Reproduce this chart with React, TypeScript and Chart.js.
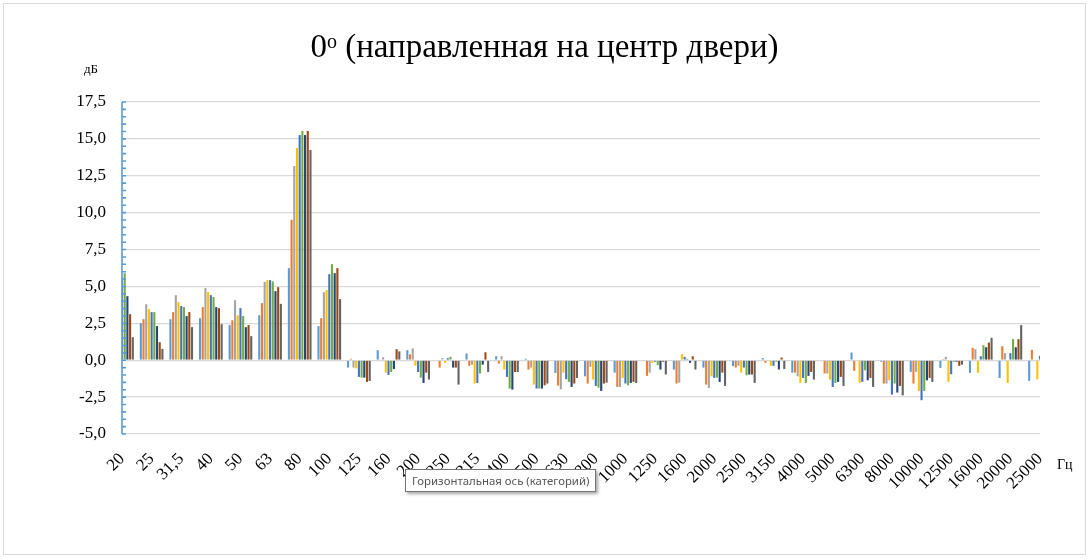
import React, { useEffect, useRef } from 'react';
import { Chart, registerables, ChartConfiguration, Plugin } from 'chart.js';

Chart.register(...registerables);

const categories = [
  '20', '25', '31,5', '40', '50', '63', '80', '100', '125', '160', '200',
  '250', '315', '400', '500', '630', '800', '1000', '1250', '1600', '2000',
  '2500', '3150', '4000', '5000', '6300', '8000', '10000', '12500', '16000',
  '20000', '25000',
];

const series1 = [4.2, 2.51, 2.78, 2.85, 2.38, 3.05, 6.24, 2.31, -0.5, 0.68, 0.68, 0.05, 0.45, 0.27, 0.1, -0.86, -1.09, -0.84, -0.05, -0.63, -0.5, -0.4, 0.14, -0.84, 0.05, 0.52, -0.1, -0.79, -0.52, -0.86, -1.2, -1.4];
const series2 = [4.6, 2.78, 3.26, 3.6, 2.71, 3.87, 9.52, 2.85, 0.1, 0.05, 0.4, -0.5, -0.38, -0.23, -0.63, -1.72, -1.58, -1.81, -1.06, -1.58, -1.65, -0.5, -0.18, -0.84, -0.9, -0.72, -1.58, -1.58, 0.07, 0.84, 0.95, 0.7];
const series3 = [5.2, 3.8, 4.41, 4.89, 4.07, 5.31, 13.16, 4.61, -0.5, 0.2, 0.8, 0.14, -0.3, 0.27, -0.5, -1.97, -0.45, -1.81, -0.84, -1.52, -1.88, -0.38, 0.05, -1.09, -0.9, 0.05, -1.58, -0.79, 0.23, 0.75, 0.48, 0.05];
const series4 = [5.0, 3.46, 3.94, 4.62, 3.05, 5.43, 14.38, 4.75, -0.55, -0.84, -0.38, -0.18, -1.58, -0.63, -1.65, -0.84, -1.31, -1.2, -0.18, 0.41, -1.09, -0.84, -0.38, -1.54, -1.31, -1.54, -1.36, -2.08, -1.47, -0.86, -1.54, -1.29];
const series5 = [5.6, 3.26, 3.67, 4.41, 3.53, 5.43, 15.26, 5.83, -1.13, -1.0, -0.8, 0.14, -1.54, -1.13, -1.92, -1.29, -1.74, -1.58, -0.1, 0.23, -1.2, -0.5, -0.38, -1.2, -1.81, -1.47, -2.33, -2.71, -0.95, 0.27, 0.48, 0.3];
const series6 = [5.9, 3.26, 3.6, 4.28, 2.99, 5.34, 15.54, 6.51, -1.18, -0.8, -1.18, 0.23, -0.9, -1.92, -1.92, -1.47, -1.86, -1.7, -0.34, 0.1, -1.18, -1.02, -0.1, -1.54, -1.54, -0.68, -1.58, -2.08, -0.1, 1.02, 1.43, 0.9];
const series7 = [4.34, 2.31, 2.99, 3.6, 2.24, 4.68, 15.26, 5.9, -1.18, -0.6, -1.54, -0.5, -0.3, -1.99, -1.92, -1.81, -2.08, -1.54, -0.63, -0.18, -1.47, -0.97, -0.63, -1.06, -1.47, -1.36, -2.19, -1.36, -0.1, 0.88, 0.88, 0.6];
const series8 = [3.12, 1.22, 3.26, 3.53, 2.38, 4.95, 15.54, 6.24, -1.47, 0.75, -0.84, -0.5, 0.54, -0.8, -1.7, -1.58, -1.58, -1.47, -0.1, 0.27, -0.84, -0.97, 0.18, -0.8, -1.13, -1.2, -1.74, -1.2, -0.38, 1.2, 1.43, 1.0];
const series9 = [1.56, 0.77, 2.24, 2.44, 1.63, 3.82, 14.25, 4.14, -1.4, 0.6, -1.31, -1.65, -0.8, -0.8, -1.58, -1.2, -1.52, -1.54, -0.97, -0.63, -1.74, -1.54, -0.6, -1.31, -1.74, -1.81, -2.38, -1.47, -0.3, 1.52, 2.38, 1.5];

const seriesValues = [series1, series2, series3, series4, series5, series6, series7, series8, series9];
const seriesColors = ['#5B9BD5', '#ED7D31', '#A5A5A5', '#FFC000', '#4472C4', '#70AD47', '#264478', '#9E480E', '#636363'];

const yMin = -5;
const yMax = 17.5;
const yStep = 2.5;
const yMinorStep = 0.5;

const serif = '"Liberation Serif", "Times New Roman", serif';

// blue vertical axis with small ticks every 0.5, drawn over the bars
const axisPlugin: Plugin = {
  id: 'valueAxisLine',
  afterDatasetsDraw(chart) {
    const { ctx, chartArea } = chart;
    const y = chart.scales.y;
    const x0 = chartArea.left;
    ctx.save();
    ctx.strokeStyle = '#5B9BD5';
    ctx.lineWidth = 1.6;
    ctx.beginPath();
    ctx.moveTo(x0, y.getPixelForValue(yMax));
    ctx.lineTo(x0, y.getPixelForValue(yMin));
    for (let v = yMin; v <= yMax + 1e-9; v += yMinorStep) {
      const p = y.getPixelForValue(v);
      ctx.moveTo(x0, p);
      ctx.lineTo(x0 + 4, p);
    }
    ctx.stroke();
    ctx.restore();
  },
};

const App: React.FC = () => {
  const canvasRef = useRef<HTMLCanvasElement | null>(null);

  useEffect(() => {
    if (!canvasRef.current) return;
    const ctx = canvasRef.current.getContext('2d');
    if (!ctx) return;

    const config: ChartConfiguration = {
      type: 'bar',
      data: {
        labels: categories,
        datasets: seriesValues.map((values, i) => ({
          label: 'Ряд ' + (i + 1),
          data: values,
          backgroundColor: seriesColors[i],
          borderWidth: 0,
          categoryPercentage: 0.82,
          barPercentage: 0.78,
          clip: 0,
        })),
      },
      options: {
        animation: false,
        responsive: false,
        maintainAspectRatio: false,
        layout: { padding: { left: 0, top: 102, right: 49, bottom: 0 } },
        plugins: {
          legend: { display: false },
          title: { display: false },
          tooltip: { enabled: false },
        },
        scales: {
          x: {
            type: 'category',
            offset: false,
            grid: { display: false, drawTicks: false },
            border: { display: false },
            ticks: {
              autoSkip: false,
              maxRotation: 45,
              minRotation: 45,
              padding: 15,
              color: '#000',
              font: { family: serif, size: 17 },
            },
            afterFit(scale) {
              scale.height = 125;
            },
          },
          y: {
            min: yMin,
            max: yMax,
            grid: { color: '#D9D9D9', lineWidth: 1.3, drawTicks: false },
            border: { display: false },
            ticks: {
              stepSize: yStep,
              padding: 16,
              color: '#000',
              font: { family: serif, size: 17 },
              callback: (v) => Number(v).toFixed(1).replace('.', ','),
            },
            afterFit(scale) {
              scale.width = 122;
            },
          },
        },
      },
      plugins: [axisPlugin],
    };

    const chart = new Chart(ctx, config);
    return () => {
      chart.destroy();
    };
  }, []);

  return (
    <div
      style={{
        position: 'absolute',
        left: 0,
        top: 0,
        width: 1089,
        height: 559,
        background: '#fff',
        overflow: 'hidden',
      }}
    >
      <div
        style={{
          position: 'absolute',
          left: 3,
          top: 3,
          width: 1081,
          height: 550,
          border: '1px solid #D9D9D9',
        }}
      />
      <canvas
        ref={canvasRef}
        width={1089}
        height={559}
        style={{ position: 'absolute', left: 0, top: 0, width: 1089, height: 559 }}
      />
      <div
        style={{
          position: 'absolute',
          left: 0,
          top: 27,
          width: 1089,
          textAlign: 'center',
          fontFamily: serif,
          fontSize: 33,
          color: '#000',
          lineHeight: '38px',
        }}
      >
        0<sup style={{ fontSize: 20, verticalAlign: 'top', lineHeight: '28px' }}>o</sup> (направленная на центр двери)
      </div>
      <div style={{ position: 'absolute', left: 84, top: 61, fontFamily: serif, fontSize: 13, color: '#000' }}>дБ</div>
      <div style={{ position: 'absolute', left: 1057, top: 457, fontFamily: serif, fontSize: 14, color: '#000' }}>Гц</div>
      <div
        style={{
          position: 'absolute',
          left: 405,
          top: 469,
          height: 21,
          padding: '0 6px',
          background: '#fff',
          border: '1px solid #767676',
          boxShadow: '2px 2px 3px rgba(0,0,0,0.35)',
          fontFamily: '"Noto Sans", "DejaVu Sans", sans-serif',
          fontSize: 11.4,
          lineHeight: '21px',
          color: '#575757',
          whiteSpace: 'nowrap',
        }}
      >
        Горизонтальная ось (категорий)
      </div>
    </div>
  );
};

export default App;
